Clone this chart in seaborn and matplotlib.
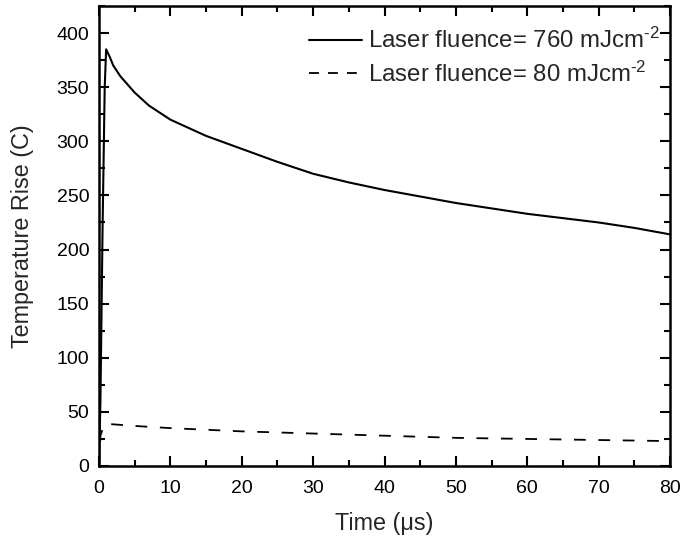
import matplotlib
matplotlib.use("Agg")
import matplotlib.pyplot as plt
from matplotlib.ticker import MultipleLocator
import seaborn as sns
import pandas as pd

sns.set_theme(style="ticks")
plt.rcParams['font.family'] = ['Liberation Sans', 'DejaVu Sans']
plt.rcParams['mathtext.fontset'] = 'custom'
plt.rcParams['mathtext.rm'] = 'Liberation Sans'
plt.rcParams['mathtext.it'] = 'Liberation Sans'

# Data
time_high = [0.0, 0.2, 0.5, 0.8, 1.0, 1.5, 2, 3, 5, 7, 10, 15, 20, 25, 30, 35, 40, 45, 50, 55, 60, 65, 70, 75, 80]
temp_high = [0, 60, 220, 350, 385, 378, 370, 360, 345, 333, 320, 305, 293, 281, 270, 262, 255, 249, 243, 238, 233, 229, 225, 220, 214]
time_low = [0.0, 0.2, 0.5, 1.0, 5, 10, 20, 30, 40, 50, 60, 70, 80]
temp_low = [0, 28, 34, 39, 37, 35, 32, 30, 28, 26, 25, 24, 23]

label_high = "Laser fluence= 760 mJcm$^{\\text{-}2}$"
label_low = "Laser fluence= 80 mJcm$^{\\text{-}2}$"

df_high = pd.DataFrame({"t": time_high, "T": temp_high})
df_low = pd.DataFrame({"t": time_low, "T": temp_low})

fig = plt.figure(figsize=(6.81, 5.40), dpi=100)
ax = fig.add_axes([99/681, (540-466)/540, (670-99)/681, (466-6)/540])

sns.lineplot(data=df_high, x="t", y="T", ax=ax, color="black", lw=1.5,
             label=label_high, sort=False)
sns.lineplot(data=df_low, x="t", y="T", ax=ax, color="black", lw=1.3,
             dashes=False, label=label_low, sort=False)
ax.lines[1].set_dashes((6.5, 7))

ax.set_xlim(0, 80)
ax.set_ylim(0, 425)
ax.xaxis.set_major_locator(MultipleLocator(10))
ax.xaxis.set_minor_locator(MultipleLocator(5))
ax.yaxis.set_major_locator(MultipleLocator(50))
ax.yaxis.set_minor_locator(MultipleLocator(25))
ax.tick_params(which='both', direction='in', top=True, right=True, width=1.5,
               labelsize=14, colors='black')
ax.tick_params(axis='x', which='both', pad=10)
ax.tick_params(axis='y', which='both', pad=7)
ax.tick_params(which='major', length=7)
ax.tick_params(which='minor', length=4)
for s in ax.spines.values():
    s.set_linewidth(1.8)
    s.set_color('black')

ax.set_xlabel("Time (μs)", fontsize=16.8, labelpad=11)
ax.set_ylabel("Temperature Rise (C)", fontsize=16.8, labelpad=16)

leg = ax.legend(loc='upper right', bbox_to_anchor=(0.982, 0.952), frameon=False,
                fontsize=17.3, handlelength=2.2, handletextpad=0.25,
                borderaxespad=0, borderpad=0, labelspacing=0.33)
leg.get_lines()[1].set_dashes((5.5, 5))

fig.savefig("out.png", dpi=100)
